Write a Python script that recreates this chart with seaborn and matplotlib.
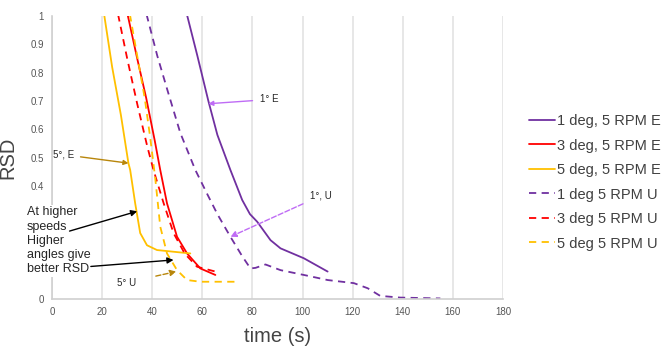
import matplotlib
matplotlib.use("Agg")
import matplotlib.pyplot as plt
import seaborn as sns
import numpy as np
import pandas as pd

# ---- data ----
t_1E = [52.5, 54, 58, 62.4, 66, 71.2, 75.9, 79, 81.9, 87.2, 91.2, 100.5, 110]
r_1E = [1.05, 1.0, 0.86, 0.70, 0.58, 0.456, 0.35, 0.30, 0.273, 0.208, 0.179, 0.144, 0.097]

t_3E = [29.5, 30.3, 34, 37.6, 41, 43.2, 45.9, 49.9, 53.9, 59.2, 65.2]
r_3E = [1.05, 1.0, 0.85, 0.71, 0.56, 0.456, 0.338, 0.22, 0.161, 0.108, 0.085]

t_5E = [20.3, 20.9, 24, 27.5, 30.5, 31.2, 33.2, 35.2, 37.9, 41.9, 48.5, 55.2]
r_5E = [1.05, 1.0, 0.82, 0.65, 0.48, 0.456, 0.338, 0.233, 0.19, 0.173, 0.167, 0.161]

t_1U = [37.0, 37.9, 42, 46, 51.2, 57.2, 62, 66, 71.2, 76, 79.2, 81.2, 85.2, 91.2, 100.5,
        110, 120.5, 126, 131, 139, 155]
r_1U = [1.05, 1.0, 0.86, 0.74, 0.587, 0.456, 0.37, 0.30, 0.22, 0.15, 0.108, 0.11, 0.122,
        0.102, 0.085, 0.067, 0.056, 0.038, 0.011, 0.005, 0.002]

t_3U = [25.8, 26.5, 30, 34, 38, 40.5, 44.5, 48.5, 53, 57.9, 65.2]
r_3U = [1.05, 1.0, 0.85, 0.69, 0.54, 0.456, 0.34, 0.233, 0.16, 0.114, 0.097]

t_5U = [30.5, 31.2, 34, 37, 39.2, 41.2, 43.2, 45.9, 49.9, 53.9, 59.2, 73.2]
r_5U = [1.05, 1.0, 0.86, 0.71, 0.57, 0.427, 0.256, 0.161, 0.102, 0.067, 0.061, 0.061]

labels = ["1 deg, 5 RPM E", "3 deg, 5 RPM E", "5 deg, 5 RPM E",
          "1 deg 5 RPM U", "3 deg 5 RPM U", "5 deg 5 RPM U"]
times = [t_1E, t_3E, t_5E, t_1U, t_3U, t_5U]
values = [r_1E, r_3E, r_5E, r_1U, r_3U, r_5U]
colors = ["#7030a0", "#ff0000", "#ffc000", "#7030a0", "#ff0000", "#ffc000"]
dashed = [False, False, False, True, True, True]

xticks = list(range(0, 181, 20))
yticks = [0, 0.1, 0.2, 0.3, 0.4, 0.5, 0.6, 0.7, 0.8, 0.9, 1]
ytick_labels = ["0", "", "", "", "0.4", "0.5", "0.6", "0.7", "0.8", "0.9", "1"]

# ---- figure ----
sns.set_style("white")
plt.rcParams['font.family'] = ['Liberation Sans', 'DejaVu Sans']
fig = plt.figure(figsize=(6.72, 3.54), dpi=100)
ax = fig.add_axes([52/672, 1-299/354, (503-52)/672, (299-16)/354])

for t, r, c, d, lab in zip(times, values, colors, dashed, labels):
    df = pd.DataFrame({"t": t, "r": r})
    sns.lineplot(data=df, x="t", y="r", ax=ax, color=c, linewidth=1.3,
                 linestyle=(0, (4, 3)) if d else "-", label=lab, sort=False,
                 estimator=None)

ax.set_xlim(0, 180)
ax.set_ylim(0, 1)
ax.set_xticks(xticks)
ax.set_yticks(yticks)
ax.set_yticklabels(ytick_labels)
ax.tick_params(axis="both", length=0, labelsize=7, labelcolor="#555555", pad=6)
ax.grid(axis="x", color="#e3e3e3", linewidth=1.2)
ax.grid(axis="y", visible=False)
ax.set_axisbelow(True)
for s in ["top", "right"]:
    ax.spines[s].set_visible(False)
for s in ["left", "bottom"]:
    ax.spines[s].set_color("#d0d0d0")
    ax.spines[s].set_linewidth(1.2)
ax.set_xlabel("time (s)", fontsize=14.5, color="#444444", labelpad=7)
ax.set_ylabel("RSD", fontsize=14.5, color="#444444", labelpad=9)

leg = ax.legend(loc="upper left", bbox_to_anchor=(1.029, 0.70), frameon=False,
                fontsize=10.5, handlelength=1.8, handletextpad=0.1,
                labelspacing=0.72)
for txt in leg.get_texts():
    txt.set_color("#404040")

# ---- annotations ----
ax.annotate("1° E", xy=(62.4, 0.69), xytext=(83, 0.705), fontsize=7,
            va="center", ha="left",
            arrowprops=dict(arrowstyle="-|>", color="#bf6cf5", lw=1.0,
                            mutation_scale=7, shrinkA=3, shrinkB=0))
ax.annotate("1°, U", xy=(71.2, 0.22), xytext=(103, 0.365), fontsize=7,
            va="center", ha="left",
            arrowprops=dict(arrowstyle="-|>", color="#bf6cf5", lw=1.0,
                            linestyle="--", mutation_scale=9, shrinkA=3, shrinkB=0))
ax.annotate("5°, E", xy=(30.5, 0.48), xytext=(0.5, 0.51), fontsize=7,
            va="center", ha="left",
            arrowprops=dict(arrowstyle="-|>", color="#b8860b", lw=1.0,
                            mutation_scale=7, shrinkA=2, shrinkB=0))
ax.annotate("5° U", xy=(49.6, 0.097), xytext=(26, 0.058), fontsize=7,
            va="center", ha="left",
            arrowprops=dict(arrowstyle="-|>", color="#b8860b", lw=1.0,
                            linestyle="--", mutation_scale=9, shrinkA=12, shrinkB=0))
txt = ax.text(-10, 0.205, "At higher\nspeeds\nHigher\nangles give\nbetter RSD",
              fontsize=9, ha="left", va="center", linespacing=1.25,
              bbox=dict(facecolor="white", edgecolor="none", pad=1), zorder=5)
ax.annotate("", xy=(34, 0.31), xytext=(7, 0.24),
            arrowprops=dict(arrowstyle="-|>", color="black", lw=1.0,
                            mutation_scale=9, shrinkA=0, shrinkB=0), zorder=6)
ax.annotate("", xy=(48.5, 0.138), xytext=(15.5, 0.115),
            arrowprops=dict(arrowstyle="-|>", color="black", lw=1.0,
                            mutation_scale=9, shrinkA=0, shrinkB=0), zorder=6)

fig.savefig("out.png", dpi=100)
